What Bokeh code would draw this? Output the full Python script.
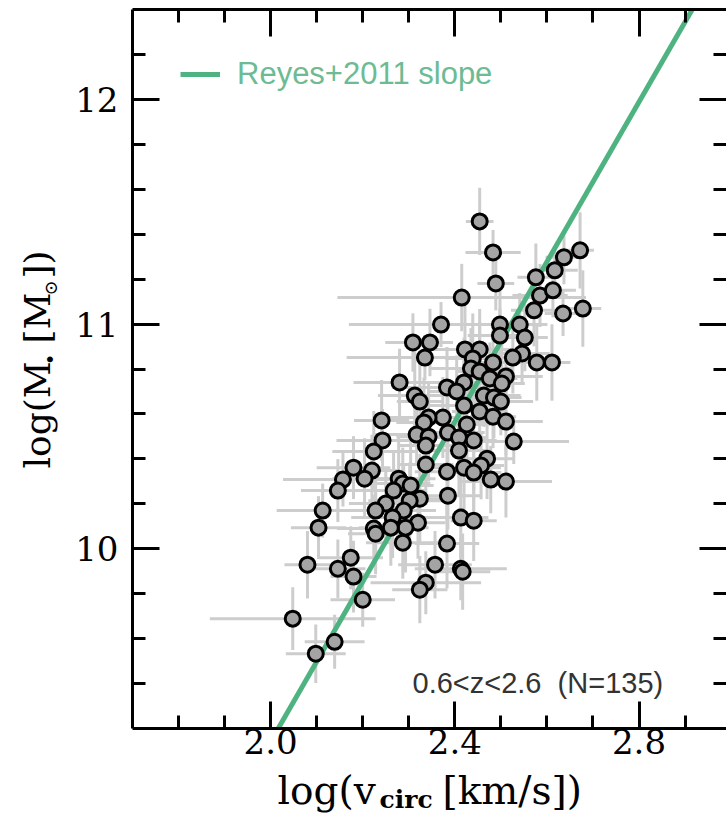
import numpy as np
from bokeh.plotting import figure
from bokeh.layouts import row, column
from bokeh.models import (Range1d, LinearAxis, FixedTicker, Label, Legend,
                          LegendItem, ColumnDataSource)
from bokeh.embed import file_html
from bokeh.resources import INLINE

# ---------------- data ----------------
log_vcirc = [2.454, 2.483, 2.489, 2.415, 2.576, 2.617, 2.637, 2.672, 2.585, 2.613,
             2.572, 2.635, 2.678, 2.370, 2.498, 2.541, 2.498, 2.552, 2.309, 2.346,
             2.335, 2.422, 2.454, 2.439, 2.546, 2.526, 2.578, 2.611, 2.435, 2.454,
             2.483, 2.511, 2.476, 2.502, 2.280, 2.383, 2.420, 2.404, 2.463, 2.485,
             2.500, 2.313, 2.324, 2.420, 2.454, 2.483, 2.511, 2.374, 2.343, 2.333,
             2.426, 2.241, 2.317, 2.343, 2.385, 2.409, 2.441, 2.528, 2.243, 2.224,
             2.337, 2.409, 2.470, 2.457, 2.420, 2.441, 2.383, 2.478, 2.511, 2.337,
             2.180, 2.220, 2.157, 2.204, 2.278, 2.287, 2.304, 2.267, 2.146, 2.324,
             2.302, 2.385, 2.250, 2.228, 2.289, 2.113, 2.104, 2.265, 2.320, 2.293,
             2.261, 2.224, 2.228, 2.413, 2.441, 2.287, 2.383, 2.080, 2.174, 2.146,
             2.180, 2.357, 2.413, 2.417, 2.337, 2.324, 2.200, 2.048, 2.139, 2.098]
log_mstar = [11.457, 11.319, 11.181, 11.118, 11.208, 11.239, 11.297, 11.328, 11.127, 11.150,
             11.061, 11.047, 11.069, 10.998, 10.998, 10.998, 10.949, 10.940, 10.918, 10.918,
             10.851, 10.887, 10.887, 10.847, 10.869, 10.851, 10.829, 10.829, 10.802, 10.789,
             10.829, 10.767, 10.758, 10.735, 10.740, 10.718, 10.740, 10.700, 10.682, 10.673,
             10.655, 10.682, 10.655, 10.637, 10.611, 10.588, 10.566, 10.584, 10.584, 10.562,
             10.553, 10.571, 10.508, 10.499, 10.517, 10.495, 10.482, 10.477, 10.482, 10.433,
             10.459, 10.437, 10.401, 10.370, 10.361, 10.339, 10.343, 10.308, 10.299, 10.375,
             10.361, 10.348, 10.308, 10.312, 10.312, 10.290, 10.281, 10.259, 10.259, 10.223,
             10.214, 10.236, 10.201, 10.170, 10.170, 10.170, 10.094, 10.139, 10.116, 10.094,
             10.094, 10.090, 10.067, 10.139, 10.125, 10.027, 10.023, 9.929, 9.960, 9.911,
             9.876, 9.929, 9.911, 9.898, 9.849, 9.818, 9.773, 9.689, 9.586, 9.533]
err_log_vcirc = [0.03, 0.06, 0.04, 0.27, 0.04, 0.05, 0.04, 0.03, 0.06, 0.05,
                 0.05, 0.04, 0.04, 0.20, 0.05, 0.06, 0.07, 0.05, 0.06, 0.05,
                 0.17, 0.08, 0.07, 0.06, 0.06, 0.05, 0.04, 0.04, 0.09, 0.05,
                 0.06, 0.08, 0.06, 0.05, 0.10, 0.12, 0.07, 0.06, 0.08, 0.06,
                 0.07, 0.08, 0.05, 0.09, 0.06, 0.05, 0.08, 0.07, 0.10, 0.06,
                 0.05, 0.06, 0.09, 0.07, 0.08, 0.06, 0.05, 0.12, 0.10, 0.09,
                 0.06, 0.07, 0.06, 0.05, 0.08, 0.06, 0.07, 0.05, 0.10, 0.06,
                 0.08, 0.06, 0.13, 0.07, 0.08, 0.06, 0.05, 0.07, 0.08, 0.06,
                 0.09, 0.07, 0.08, 0.06, 0.07, 0.10, 0.06, 0.09, 0.06, 0.05,
                 0.07, 0.08, 0.06, 0.06, 0.05, 0.08, 0.07, 0.05, 0.07, 0.06,
                 0.05, 0.08, 0.10, 0.06, 0.12, 0.06, 0.07, 0.18, 0.065, 0.065]
err_log_mstar = [0.15, 0.10, 0.12, 0.15, 0.15, 0.10, 0.12, 0.17, 0.14, 0.12,
                 0.16, 0.10, 0.17, 0.10, 0.18, 0.14, 0.12, 0.15, 0.13, 0.15,
                 0.10, 0.22, 0.18, 0.20, 0.14, 0.16, 0.17, 0.17, 0.18, 0.22,
                 0.15, 0.12, 0.16, 0.20, 0.15, 0.18, 0.20, 0.16, 0.14, 0.18,
                 0.15, 0.22, 0.17, 0.20, 0.16, 0.14, 0.15, 0.18, 0.15, 0.20,
                 0.16, 0.18, 0.14, 0.20, 0.16, 0.18, 0.22, 0.10, 0.14, 0.18,
                 0.16, 0.20, 0.18, 0.15, 0.20, 0.17, 0.22, 0.15, 0.16, 0.18,
                 0.14, 0.16, 0.12, 0.18, 0.20, 0.16, 0.22, 0.18, 0.14, 0.20,
                 0.17, 0.15, 0.16, 0.18, 0.20, 0.12, 0.14, 0.18, 0.16, 0.20,
                 0.17, 0.15, 0.18, 0.22, 0.18, 0.16, 0.20, 0.15, 0.14, 0.13,
                 0.16, 0.15, 0.14, 0.17, 0.14, 0.15, 0.12, 0.14, 0.12, 0.13]

# Reyes+2011 TF slope: log v ∝ 0.281 log M*, pinned where it crosses the sample
reyes_dlogv_dlogm = 0.281
reyes_pivot_logv = 2.466
reyes_pivot_logm = 10.8

x_major = [2.0, 2.4, 2.8]
x_minor = [1.8, 1.9, 2.1, 2.2, 2.3, 2.5, 2.6, 2.7, 2.9]
y_major = [10, 11, 12]
y_minor = [9.4, 9.6, 9.8, 10.2, 10.4, 10.6, 10.8, 11.2, 11.4, 11.6, 11.8, 12.2]
x_tick_labels = {2.0: "2.0", 2.4: "2.4", 2.8: "2.8"}

serif = "DejaVu Serif"
sans = "Liberation Sans"

# ---------------- layout sizes ----------------
YLAB_W = 64
MAIN_W, MAIN_H = 726 - YLAB_W, 768
XLAB_H = 814 - MAIN_H

# ---------------- main figure ----------------
p = figure(width=MAIN_W, height=MAIN_H, output_backend="svg", toolbar_location=None,
           x_range=Range1d(1.7, 2.99), y_range=Range1d(9.2, 12.4),
           x_axis_location=None, y_axis_location=None,
           min_border_left=132 - YLAB_W, min_border_right=0, min_border_top=9,
           min_border_bottom=40)
p.grid.visible = False
p.outline_line_color = None

vx = np.array(log_vcirc)
my = np.array(log_mstar)
ex = np.array(err_log_vcirc)
ey = np.array(err_log_mstar)
src = ColumnDataSource(dict(x=vx, y=my, x0=vx - ex, x1=vx + ex, y0=my - ey, y1=my + ey))

err_col = "#cdcdcd"
p.segment(x0="x0", y0="y", x1="x1", y1="y", source=src, line_color=err_col, line_width=3)
p.segment(x0="x", y0="y0", x1="x", y1="y1", source=src, line_color=err_col, line_width=3)

lx = np.array([1.7, 2.99])
ly = reyes_pivot_logm + (lx - reyes_pivot_logv) / reyes_dlogv_dlogm
green = "#4fb381"
reyes = p.line(lx, ly, line_color=green, line_width=5)

p.scatter(x="x", y="y", source=src, size=15, fill_color="#a4a4a4",
          line_color="black", line_width=3)

xt = FixedTicker(ticks=x_major, minor_ticks=x_minor)
yt = FixedTicker(ticks=y_major, minor_ticks=y_minor)


def style(ax, ticker, show_labels, line=True):
    ax.ticker = ticker
    ax.axis_line_width = 3
    ax.axis_line_color = "black" if line else None
    ax.major_tick_line_width = 3
    ax.minor_tick_line_width = 3
    ax.major_tick_in = 27
    ax.major_tick_out = 0
    ax.minor_tick_in = 13
    ax.minor_tick_out = 0
    ax.major_label_text_font = serif
    if show_labels:
        ax.major_label_text_color = "black"
        ax.major_label_text_font_size = "34px"
    else:
        ax.major_label_text_color = None
        ax.major_label_text_font_size = "1px"
        ax.major_label_standoff = 0


bottom = LinearAxis()
style(bottom, xt, True)
bottom.major_label_overrides = x_tick_labels
bottom.major_label_standoff = 0
top = LinearAxis()
style(top, xt, False)
left = LinearAxis()
style(left, yt, True)
left.major_label_standoff = 14
right = LinearAxis()
style(right, yt, False, line=False)
p.add_layout(bottom, "below")
p.add_layout(top, "above")
p.add_layout(left, "left")
p.add_layout(right, "right")


def lab(fig, text, x, y, size, bold=False, angle=0.0, font=serif, color="black"):
    fig.add_layout(Label(x=x, y=y, x_units="screen", y_units="screen", text=text,
                         text_font=font, text_font_size=f"{size}px",
                         text_font_style="bold" if bold else "normal",
                         text_color=color, angle=angle, text_align="left",
                         text_baseline="alphabetic"))


lab(p, "0.6<z<2.6\u00a0\u00a0(N=135)", 280, 46, 29, font=sans, color="#333333")

legend = Legend(items=[LegendItem(label="Reyes+2011 slope", renderers=[reyes])],
                location=(48, 636), padding=0, margin=0, spacing=0,
                glyph_width=40, glyph_height=32, label_standoff=17,
                label_text_font=sans, label_text_font_size="31px",
                label_text_color="#6cbb93", border_line_color=None,
                background_fill_alpha=0)
p.add_layout(legend)


# ---------------- axis-title panels ----------------
def blank(w, h):
    f = figure(width=w, height=h, output_backend="svg", toolbar_location=None,
               x_range=Range1d(0, 1), y_range=Range1d(0, 1),
               x_axis_location=None, y_axis_location=None, min_border=0)
    f.grid.visible = False
    f.outline_line_color = None
    return f


# Bokeh sets the alphabetic baseline ~0.36 em beyond the anchor; compensate.
def shift(size):
    return 0.36 * size


xfig = blank(MAIN_W, XLAB_H)   # its frame is aligned with the main frame (x = 132)
X_MAIN, X_SUB = 39, 25
lab(xfig, "log(v", 145, 9.5 + shift(X_MAIN), X_MAIN)
lab(xfig, "circ", 247, 6 + shift(X_SUB), X_SUB, bold=True)
lab(xfig, "[km/s])", 310, 9.5 + shift(X_MAIN), X_MAIN)

yfig = blank(YLAB_W, 814)
a = np.pi / 2
Y_MAIN = 36
yb = 814 - 468
base = 50
lab(yfig, "log(M", base - shift(Y_MAIN), yb, Y_MAIN, angle=a)
lab(yfig, "\u2022", base + 6 - shift(16), yb + 104, 16, bold=True, angle=a)
lab(yfig, "[M", base - shift(Y_MAIN), yb + 125, Y_MAIN, angle=a)
lab(yfig, "\u2299", base + 6 - shift(18), yb + 173, 18, angle=a)
lab(yfig, "])", base - shift(Y_MAIN), yb + 190, Y_MAIN, angle=a)

layout = row(yfig, column(p, xfig))
open("out.html", "w").write(file_html(layout, INLINE))
